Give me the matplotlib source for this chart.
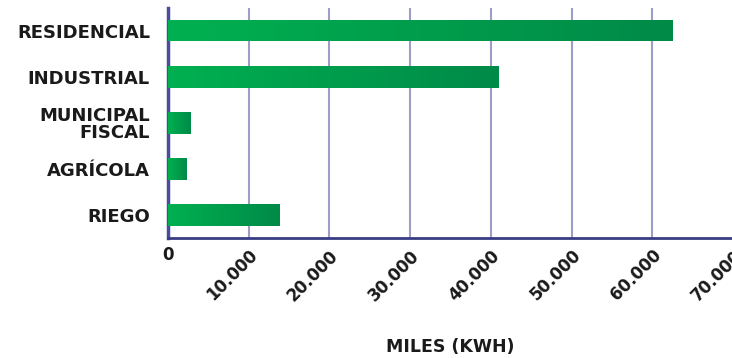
import numpy as np
import matplotlib
matplotlib.use('Agg')
import matplotlib.pyplot as plt
from matplotlib.colors import LinearSegmentedColormap

categories = ['RESIDENCIAL', 'INDUSTRIAL', 'MUNICIPAL\nFISCAL', 'AGRÍCOLA', 'RIEGO']
values = [62500, 40900, 2800, 2300, 13800]
xticks = [0, 10000, 20000, 30000, 40000, 50000, 60000, 70000]
xtick_labels = ['0', '10.000', '20.000', '30.000', '40.000', '50.000', '60.000', '70.000']

plt.rcParams['font.family'] = ['DejaVu Sans']
plt.rcParams['font.weight'] = 'bold'

fig = plt.figure(figsize=(7.32, 3.58), dpi=100)
ax = fig.add_axes([0.2295, 0.335, 0.772, 0.643])

ypos = np.arange(len(categories))
bars = ax.barh(ypos, values, height=0.46, color='none', edgecolor='none', zorder=3)

# green gradient, light left -> dark right, per bar
cmap = LinearSegmentedColormap.from_list('grn', ['#00b050', '#008a48'])
grad = np.linspace(0, 1, 256).reshape(1, -1)
for b in bars:
    x0, y0 = b.get_x(), b.get_y()
    w, h = b.get_width(), b.get_height()
    im = ax.imshow(grad, cmap=cmap, aspect='auto', extent=[x0, x0 + w, y0, y0 + h],
                   origin='lower', zorder=3, interpolation='bicubic')
    im.set_clip_path(b)

ax.set_xlim(0, 70000)
ax.set_ylim(len(categories) - 0.5, -0.5)
ax.set_yticks(ypos)
ax.set_yticklabels(categories, fontsize=13, fontweight='bold', color='#1a1a1a',
                   linespacing=0.95)
ax.set_xticks(xticks)
ax.set_xticklabels(xtick_labels, fontsize=12, fontweight='bold', color='#1a1a1a',
                   rotation=45, ha='right', va='top', rotation_mode='anchor')
lab0 = ax.get_xticklabels()[0]
lab0.set_rotation(0)
lab0.set_ha('center')
ax.tick_params(axis='both', length=0)
ax.tick_params(axis='y', pad=13)
ax.tick_params(axis='x', pad=6)

ax.grid(axis='x', color='#9c9ec9', linewidth=1.5, zorder=1)
ax.set_axisbelow(True)
for s in ['top', 'right']:
    ax.spines[s].set_visible(False)
ax.spines['left'].set_color('#4a4d9c')
ax.spines['left'].set_linewidth(2.5)
ax.spines['bottom'].set_color('#3a3d84')
ax.spines['bottom'].set_linewidth(2)

ax.set_xlabel('MILES (KWH)', fontsize=12.5, fontweight='bold', color='#1a1a1a', labelpad=24)

fig.savefig('out.png', dpi=100)
